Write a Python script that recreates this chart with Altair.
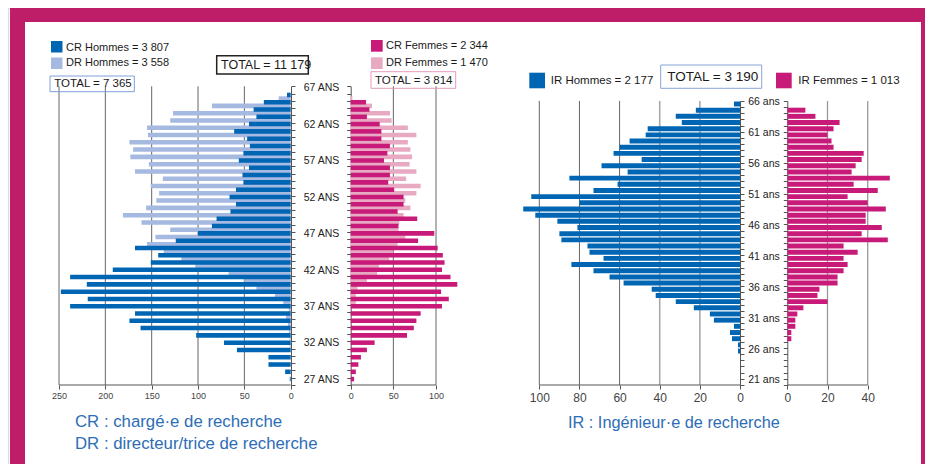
import altair as alt
import pandas as pd

FONT = "Liberation Sans"
BLUE = "#0066b3"
LIGHT_BLUE = "#a5b9e1"
MAGENTA = "#c81a78"
PINK = "#e8a9c3"
FRAME = "#be1e68"
CAPTION = "#2d6db5"

# ---------------- data ----------------
ages_crdr = list(range(67, 26, -1))  # 67 .. 27
cr_hommes = [0, 4, 29, 40, 37, 45, 61, 47, 44, 51,
             56, 45, 52, 51, 59, 66, 59, 65, 80, 85,
             100, 124, 168, 143, 151, 192, 238, 220, 248, 219,
             238, 168, 174, 162, 102, 72, 58, 24, 24, 6,
             1]
dr_hommes = [0, 13, 85, 127, 130, 155, 154, 174, 170, 173,
             153, 168, 138, 151, 142, 145, 156, 181, 161, 130,
             146, 155, 137, 118, 103, 67, 50, 37, 17, 8,
             2, 5, 3, 2, 1, 1, 0, 0, 0, 0,
             0]
cr_femmes = [0, 0, 18, 22, 19, 34, 36, 36, 46, 43,
             39, 46, 46, 44, 51, 62, 62, 55, 78, 56,
             98, 79, 102, 108, 110, 107, 117, 125, 106, 115,
             107, 82, 77, 74, 66, 28, 19, 12, 9, 6,
             4]
dr_femmes = [0, 2, 25, 46, 48, 67, 77, 67, 70, 72,
             69, 77, 65, 82, 77, 64, 70, 62, 57, 56,
             64, 55, 50, 45, 33, 31, 19, 8, 6, 6,
             0, 0, 0, 0, 0, 0, 0, 0, 0, 0,
             0]

ages_ir = list(range(66, 20, -1))  # 66 .. 21
ir_hommes = [3, 22, 32, 29, 46, 47, 55, 60, 63, 49,
             69, 56, 85, 61, 73, 104, 80, 108, 102, 91,
             81, 90, 89, 76, 75, 68, 84, 73, 65, 58,
             44, 42, 32, 23, 15, 13, 3, 5, 4, 1,
             1, 0, 0, 0, 0, 0]
ir_femmes = [0, 9, 14, 26, 23, 20, 22, 23, 38, 37,
             34, 32, 51, 33, 45, 30, 40, 49, 39, 39,
             47, 37, 50, 28, 35, 28, 30, 28, 25, 25,
             16, 15, 20, 8, 5, 4, 4, 2, 2, 0,
             0, 0, 0, 0, 0, 0]

ticks_men = [0, 50, 100, 150, 200, 250]
ticks_women = [0, 50, 100]
ticks_irm = [0, 20, 40, 60, 80, 100]
ticks_irf = [0, 20, 40]

legend_labels = ["CR Hommes = 3 807", "DR Hommes = 3 558", "TOTAL = 7 365", "TOTAL = 11 179",
                 "CR Femmes = 2 344", "DR Femmes = 1 470", "TOTAL = 3 814",
                 "IR Hommes = 2 177", "TOTAL = 3 190", "IR Femmes = 1 013"]
captions = ["CR : chargé·e de recherche", "DR : directeur/trice de recherche",
            "IR : Ingénieur·e de recherche"]

# ---------------- tables ----------------
n = len(ages_crdr)
men_df = pd.DataFrame({"age": ages_crdr * 2, "value": dr_hommes + cr_hommes,
                       "type": ["DR"] * n + ["CR"] * n,
                       "col": [LIGHT_BLUE] * n + [BLUE] * n})
women_df = pd.DataFrame({"age": ages_crdr * 2, "value": dr_femmes + cr_femmes,
                         "type": ["DR"] * n + ["CR"] * n,
                         "col": [PINK] * n + [MAGENTA] * n})
irm_df = pd.DataFrame({"age": ages_ir, "value": ir_hommes})
irf_df = pd.DataFrame({"age": ages_ir, "value": ir_femmes})

W, H = 917, 456        # whole drawing area
BASE = 377             # level of the bottom axes
TOP_L, TOP_R = 78.3, 92.9

xs_men = dict(domain=[0, 250], range=[282.7, 51])
xs_women = dict(domain=[0, 100], range=[342.7, 428])
xs_irm = dict(domain=[0, 100], range=[732, 531.3])
xs_irf = dict(domain=[0, 40], range=[779.3, 859.7])


def xaxis(values, fs, pad):
    return alt.Axis(orient="bottom", offset=BASE - H, values=values, title=None, grid=False,
                    domain=False, ticks=True, labels=True,
                    labelFlush=False, labelFontSize=fs, labelColor="#444",
                    labelPadding=pad, tickSize=4, tickColor="#555",
                    labelFont=FONT)


def yaxis(orient, offset, expr, pad, show_labels=True):
    kw = dict(orient=orient, offset=offset, title=None, tickBand="extent",
              domain=True, ticks=True,
              tickSize=4, tickColor="#555", domainColor="#555", grid=False,
              labels=show_labels, labelFont=FONT, labelFontSize=10.5,
              labelColor="#222")
    if show_labels:
        kw.update(labelExpr=expr, labelAlign="center", labelPadding=pad, labelOffset=-2)
    return alt.Axis(**kw)


def grid(values, xscale, top, color, width):
    df = pd.DataFrame({"v": values})
    return alt.Chart(df).mark_rule().encode(
        x=alt.X("v:Q", scale=alt.Scale(**xscale), axis=None),
        y=alt.value(top), y2=alt.value(BASE),
        color=color, strokeWidth=width,
    )


def baseline(values, xscale):
    df = pd.DataFrame({"lo": [min(values)], "hi": [max(values)]})
    return alt.Chart(df).mark_rule(color="#555", strokeWidth=1).encode(
        x=alt.X("lo:Q", scale=alt.Scale(**xscale), axis=None), x2="hi",
        y=alt.value(BASE),
    )


y_left_scale = dict(domain=ages_crdr, range=[TOP_L, BASE], paddingInner=0, paddingOuter=0)
y_right_scale = dict(domain=ages_ir, range=[TOP_R, BASE], paddingInner=0, paddingOuter=0)

grid_men = grid(ticks_men[1:], xs_men, TOP_L, alt.value("#666"), alt.value(1))
grid_women = grid(ticks_women[1:], xs_women, TOP_L, alt.value("#666"), alt.value(1))
grid_irm = grid(ticks_irm[1:], xs_irm, TOP_R,
                alt.condition("datum.v <= 40", alt.value("#a8a8a8"), alt.value("#666")),
                alt.condition("datum.v <= 40", alt.value(1.6), alt.value(1)))
grid_irf = grid(ticks_irf[1:], xs_irf, TOP_R, alt.value("#999"), alt.value(1.3))

base_men = baseline(ticks_men, xs_men)
base_women = baseline(ticks_women, xs_women)
base_irm = baseline(ticks_irm, xs_irm)
base_irf = baseline(ticks_irf, xs_irf)

men = alt.Chart(men_df).mark_bar(height=alt.RelativeBandSize(band=1.25)).encode(
    x=alt.X("value:Q", scale=alt.Scale(**xs_men), axis=xaxis(ticks_men, 9, 2)),
    y=alt.Y("age:O", scale=alt.Scale(**y_left_scale),
            axis=yaxis("right", 283 - W, "datum.value % 5 == 2 ? datum.value + ' ANS' : ''", 26)),
    yOffset=alt.YOffset("type:N", scale=alt.Scale(domain=["CR", "DR"])),
    color=alt.Color("col:N", scale=None),
)

women = alt.Chart(women_df).mark_bar(height=alt.RelativeBandSize(band=1.25)).encode(
    x=alt.X("value:Q", scale=alt.Scale(**xs_women), axis=xaxis(ticks_women, 9, 2)),
    y=alt.Y("age:O", scale=alt.Scale(**y_left_scale),
            axis=yaxis("left", -342.7, "", 0, show_labels=False)),
    yOffset=alt.YOffset("type:N", scale=alt.Scale(domain=["CR", "DR"])),
    color=alt.Color("col:N", scale=None),
)

irm = alt.Chart(irm_df).mark_bar(height=alt.RelativeBandSize(band=0.8), color=BLUE).encode(
    x=alt.X("value:Q", scale=alt.Scale(**xs_irm), axis=xaxis(ticks_irm, 12, 3)),
    y=alt.Y("age:O", scale=alt.Scale(**y_right_scale),
            axis=yaxis("right", 732 - W, "datum.value % 5 == 1 ? datum.value + ' ans' : ''", 19.5)),
)

irf = alt.Chart(irf_df).mark_bar(height=alt.RelativeBandSize(band=0.8), color=MAGENTA).encode(
    x=alt.X("value:Q", scale=alt.Scale(**xs_irf), axis=xaxis(ticks_irf, 12, 3)),
    y=alt.Y("age:O", scale=alt.Scale(**y_right_scale),
            axis=yaxis("left", -779.3, "", 0, show_labels=False)),
)

# ---------------- annotations (legend, totals, captions, frame) ----------------
sq_df = pd.DataFrame({
    "x": [43, 43, 363, 363, 521.3, 768],
    "x2": [54.5, 54.5, 374.7, 374.7, 537, 783.7],
    "y": [33, 49.5, 32, 49.3, 64.7, 64.7],
    "y2": [44.5, 61, 43.7, 61, 80.3, 80.3],
    "col": [BLUE, LIGHT_BLUE, MAGENTA, PINK, BLUE, MAGENTA],
})
squares = alt.Chart(sq_df).mark_rect().encode(
    x=alt.X("x:Q", scale=None, axis=None), x2="x2",
    y=alt.Y("y:Q", scale=None, axis=None), y2="y2",
    color=alt.Color("col:N", scale=None),
)

box_df = pd.DataFrame({
    "x": [42, 208.7, 363, 652.7],
    "x2": [126.3, 300.3, 447.7, 753.7],
    "y": [68, 47.7, 63.7, 57],
    "y2": [83.7, 66, 80.3, 80.3],
    "col": ["#7e9fd8", "#222222", "#e49bbb", "#88a4d8"],
    "sw": [1, 1.5, 1, 1],
})
boxes = alt.Chart(box_df).mark_rect(filled=False).encode(
    x=alt.X("x:Q", scale=None, axis=None), x2="x2",
    y=alt.Y("y:Q", scale=None, axis=None), y2="y2",
    color=alt.Color("col:N", scale=None),
    strokeWidth=alt.StrokeWidth("sw:Q", scale=None),
)

# white masks for the empty gaps between the panels along the base line
gap_df = pd.DataFrame({
    "x": [17, 288, 429.2, 737, 861],
    "x2": [50.2, 338, 530.4, 775, 913],
    "y": [BASE - 0.8] * 5,
    "y2": [BASE + 1.3] * 5,
})
gaps = alt.Chart(gap_df).mark_rect(color="white").encode(
    x=alt.X("x:Q", scale=None, axis=None), x2="x2",
    y=alt.Y("y:Q", scale=None, axis=None), y2="y2",
)

txt_df = pd.DataFrame({
    "label": legend_labels + captions,
    "x": [58, 58, 46.3, 213, 378, 378, 367, 542.7, 659.3, 790.3, 67, 67, 560],
    "y": [39.7, 55.3, 76, 57, 38.3, 55, 72.7, 73, 68.5, 73, 414, 436, 415],
    "fs": [11, 11, 11.5, 12.5, 11, 11, 11.5, 11.5, 13.5, 11.5, 16.8, 16.8, 16.3],
    "col": ["#1a1a1a"] * 10 + [CAPTION] * 3,
})
texts = alt.Chart(txt_df).mark_text(align="left", baseline="middle", font=FONT).encode(
    x=alt.X("x:Q", scale=None, axis=None),
    y=alt.Y("y:Q", scale=None, axis=None),
    text="label:N",
    size=alt.Size("fs:Q", scale=None),
    color=alt.Color("col:N", scale=None),
)

frame = alt.Chart(pd.DataFrame({"a": [1]})).mark_rect(
    filled=False, color=FRAME, strokeWidth=15
).encode(x=alt.value(9.5), x2=alt.value(920.5), y=alt.value(6.5), y2=alt.value(700))

chart = alt.layer(
    frame, grid_men, grid_women, grid_irm, grid_irf,
    base_men, base_women, base_irm, base_irf,
    men, women, irm, irf, gaps, boxes, squares, texts
).resolve_scale(
    x="independent", y="independent"
).properties(
    width=W, height=H,
    autosize=alt.AutoSizeParams(type="none"),
    padding={"left": 0, "top": 0, "right": 0, "bottom": 0},
).configure_view(
    stroke="transparent", strokeWidth=0
).configure_axis(
    domain=False, ticks=False, grid=False, labels=False
).configure(background="white")

chart.save("out.html", embed_options={"renderer": "svg", "actions": False})
